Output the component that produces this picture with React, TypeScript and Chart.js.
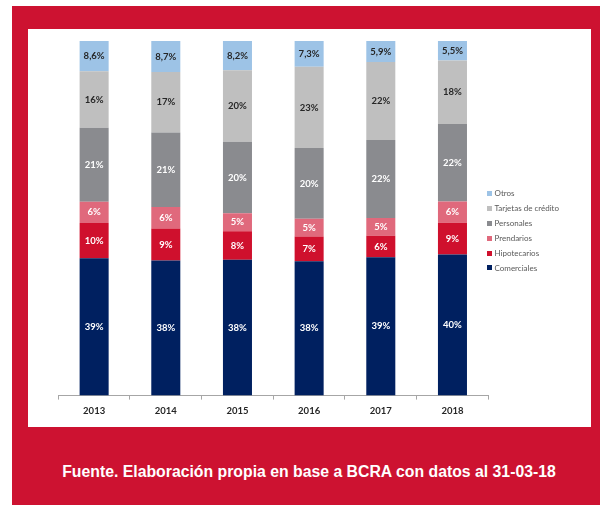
import React, { useEffect, useRef } from "react";
import { Chart, registerables } from "chart.js";

Chart.register(...registerables);

const years = ["2013", "2014", "2015", "2016", "2017", "2018"];
const comerciales = [39, 38, 38, 38, 39, 40];
const hipotecarios = [10, 9, 8, 7, 6, 9];
const prendarios = [6, 6, 5, 5, 5, 6];
const personales = [21, 21, 20, 20, 22, 22];
const tarjetas = [16, 17, 20, 23, 22, 18];
const otros = [8.6, 8.7, 8.2, 7.3, 5.9, 5.5];

const seriesNames = ["Comerciales", "Hipotecarios", "Prendarios", "Personales", "Tarjetas de crédito", "Otros"];
const seriesValues = [comerciales, hipotecarios, prendarios, personales, tarjetas, otros];
const seriesColors = ["#002060", "#CF102D", "#E0697C", "#8A8B8F", "#BFBFBF", "#9DC3E6"];
const labelColors = ["#ffffff", "#ffffff", "#ffffff", "#ffffff", "#262626", "#262626"];

const RED = "#CD1231";
const FONT = "Lato, 'Open Sans', sans-serif";

function fmt(v: number) {
  return (Number.isInteger(v) ? String(v) : v.toFixed(1).replace(".", ",")) + "%";
}

const totals = years.map((_, i) => seriesValues.reduce((s, arr) => s + arr[i], 0));

const labelPlugin = {
  id: "segLabels",
  afterDatasetsDraw(chart: any) {
    const ctx = chart.ctx;
    ctx.save();
    ctx.font = `bold 9.5px ${FONT}`;
    ctx.textAlign = "center";
    ctx.textBaseline = "middle";
    chart.data.datasets.forEach((ds: any, di: number) => {
      const meta = chart.getDatasetMeta(di);
      meta.data.forEach((el: any, i: number) => {
        const y = (el.y + el.base) / 2;
        ctx.fillStyle = labelColors[di];
        ctx.fillText(fmt(seriesValues[di][i]), el.x, y);
      });
    });
    ctx.restore();
  },
};

export default function App() {
  const ref = useRef<HTMLCanvasElement>(null);
  useEffect(() => {
    if (!ref.current) return;
    const chart = new Chart(ref.current, {
      type: "bar",
      data: {
        labels: years,
        datasets: seriesNames.map((name, di) => ({
          label: name,
          data: seriesValues[di].map((v, i) => (v / totals[i]) * 100),
          backgroundColor: seriesColors[di],
          borderWidth: 0,
          categoryPercentage: 1,
          barPercentage: 0.405,
        })),
      },
      options: {
        responsive: false,
        animation: false,
        layout: { padding: { left: 30.3, top: 12, right: 102.7, bottom: 4 } },
        plugins: { legend: { display: false }, tooltip: { enabled: false } },
        scales: {
          x: {
            stacked: true,
            grid: {
              display: true,
              drawOnChartArea: false,
              drawTicks: true,
              tickLength: 4,
              color: "#a6a6a6",
              offset: true,
            },
            border: { display: true, color: "#a6a6a6" },
            ticks: { color: "#262626", font: { family: FONT, weight: "bold", size: 9.5 }, padding: 6 },
          },
          y: { stacked: true, display: false, min: 0, max: 100 },
        },
      },
      plugins: [labelPlugin],
    });
    return () => chart.destroy();
  }, []);

  const legendItems = seriesNames.map((n, i) => ({ n, c: seriesColors[i] })).reverse();

  return (
    <div style={{ position: "absolute", left: 0, top: 0, width: 610, height: 505, background: "#fff", overflow: "hidden" }}>
      <div style={{ position: "absolute", left: 12, top: 6, width: 588, height: 499, background: RED }} />
      <div style={{ position: "absolute", left: 28, top: 29, width: 563, height: 398, background: "#fff" }}>
        <canvas ref={ref} width={563} height={398} style={{ width: 563, height: 398, display: "block" }} />
      </div>
      <div style={{ position: "absolute", left: 487, top: 186, fontFamily: FONT, fontSize: 8, color: "#595959" }}>
        {legendItems.map((it) => (
          <div key={it.n} style={{ height: 14.9, display: "flex", alignItems: "center", whiteSpace: "nowrap" }}>
            <span style={{ display: "inline-block", width: 5, height: 5, background: it.c, marginRight: 2.5 }} />
            <span>{it.n}</span>
          </div>
        ))}
      </div>
      <div
        style={{
          position: "absolute",
          left: 15,
          width: 588,
          top: 463,
          textAlign: "center",
          color: "#fff",
          fontFamily: "'Liberation Sans', Arial, sans-serif",
          fontWeight: "bold",
          fontSize: 15.8,
          lineHeight: "18px",
          whiteSpace: "nowrap",
        }}
      >
        Fuente. Elaboración propia en base a BCRA con datos al 31-03-18
      </div>
    </div>
  );
}
